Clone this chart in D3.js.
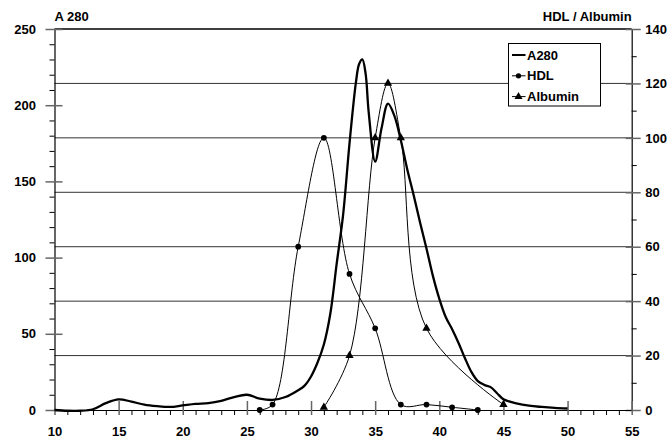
<!DOCTYPE html>
<html>
<head>
<meta charset="utf-8">
<script src="https://cdn.jsdelivr.net/npm/d3@7"></script>
<style>
  body { margin: 0; background: #fff; }
  svg text { font-family: "Liberation Sans", Arial, Helvetica, sans-serif; font-weight: bold; font-size: 13px; fill: #000; }
</style>
</head>
<body>
<div class="chart"></div>
<script>
// fraction number (x) and readings
const a280X = [10, 11, 12, 13, 14, 15, 16, 17, 18, 19, 20, 21, 22, 23, 24, 25, 26, 27, 28, 29, 29.5, 30, 30.5, 31, 31.5, 32, 32.5, 33, 33.5, 33.75, 34, 34.25, 34.5, 35, 35.5, 36, 36.5, 37, 37.5, 38, 38.5, 39, 39.5, 40, 40.5, 41, 41.5, 42, 42.5, 43, 43.5, 44, 44.5, 45, 45.5, 46, 47, 48, 49, 50];
const a280Y = [0, -0.5, -0.5, 0.5, 4.5, 7, 5.5, 3.5, 2.5, 2, 3, 4, 4.5, 6, 8.5, 10, 7.5, 6.6, 8.5, 13, 16, 22, 31, 43, 63, 96, 128, 175, 215, 227, 230, 221, 195, 163, 185, 201, 193, 177, 158, 141, 123, 106, 88, 73, 61, 53, 44, 34, 25, 19, 16.5, 15, 11, 7, 5.5, 4.3, 2.8, 2, 1.4, 1];

const hdlX = [26, 27, 29, 31, 33, 35, 37, 39, 41, 43];
const hdlY = [0, 2, 60, 100, 50, 30, 2, 2, 1, 0];

const albX = [31, 33, 35, 36, 37, 39, 45];
const albY = [1, 20, 100, 120, 100, 30, 2];

const xTicks = [10, 15, 20, 25, 30, 35, 40, 45, 50, 55];
const leftTicks = [0, 50, 100, 150, 200, 250];
const rightTicks = [0, 20, 40, 60, 80, 100, 120, 140];
const legendNames = ["A280", "HDL", "Albumin"];

const width = 671, height = 441;
const plot = {left: 54.5, right: 631.7, top: 29, bottom: 410};

const svg = d3.select(".chart").append("svg")
  .attr("width", width)
  .attr("height", height);

const x = d3.scaleLinear().domain([10, 55]).range([plot.left, plot.right]);
const yL = d3.scaleLinear().domain([0, 250]).range([plot.bottom, plot.top]);
const yR = d3.scaleLinear().domain([0, 140]).range([plot.bottom, plot.top]);

// horizontal grid (right axis)
svg.append("g")
  .selectAll("line")
  .data(rightTicks.filter(d => d > 0))
  .enter()
  .append("line")
  .attr("x1", plot.left)
  .attr("x2", plot.right)
  .attr("y1", d => yR(d))
  .attr("y2", d => yR(d))
  .attr("stroke", d => d === 140 ? "#000" : "#333")
  .attr("stroke-width", d => d === 140 ? 1.6 : 1);

// minor ticks
const minorLeft = d3.range(0, 251, 10).filter(d => d % 50 !== 0);
const minorRight = d3.range(0, 141, 10).filter(d => d % 20 !== 0);
const minorX = d3.range(10, 56, 1).filter(d => d % 5 !== 0);

svg.append("g")
  .attr("transform", `translate(${plot.left},0)`)
  .call(d3.axisLeft(yL).tickValues(minorLeft).tickSize(5).tickFormat(""))
  .call(g => g.select(".domain").remove());

svg.append("g")
  .attr("transform", `translate(${plot.right},0)`)
  .call(d3.axisRight(yR).tickValues(minorRight).tickSize(5).tickFormat(""))
  .call(g => g.select(".domain").remove());

svg.append("g")
  .attr("transform", `translate(0,${plot.bottom})`)
  .call(d3.axisBottom(x).tickValues(minorX).tickSize(5).tickFormat(""))
  .call(g => g.select(".domain").remove());

// major axes
const gLeft = svg.append("g")
  .attr("transform", `translate(${plot.left},0)`)
  .call(d3.axisLeft(yL).tickValues(leftTicks).tickSize(9).tickPadding(9.5).tickSizeOuter(0));
gLeft.selectAll(".tick line").attr("x1", 8).attr("stroke", "#666").attr("stroke-width", 1.5);

const gRight = svg.append("g")
  .attr("transform", `translate(${plot.right},0)`)
  .call(d3.axisRight(yR).tickValues(rightTicks).tickSize(9).tickPadding(4.5).tickSizeOuter(0));
gRight.selectAll(".tick line").attr("x1", -6).attr("stroke", "#666").attr("stroke-width", 1.5);

const gBottom = svg.append("g")
  .attr("transform", `translate(0,${plot.bottom})`)
  .call(d3.axisBottom(x).tickValues(xTicks).tickSize(5).tickPadding(12).tickSizeOuter(0));
gBottom.selectAll(".tick line").attr("y1", -9).attr("stroke", "#666").attr("stroke-width", 1.5);

svg.selectAll(".domain").attr("stroke", "#000").attr("stroke-width", 1.2);
svg.selectAll(".tick text").style("font-size", "13px").style("font-family", "'Liberation Sans', Arial, sans-serif").style("font-weight", "bold");

// axis titles
svg.append("text")
  .attr("x", plot.left)
  .attr("y", 20.5)
  .text("A 280");

svg.append("text")
  .attr("x", plot.right)
  .attr("y", 20.5)
  .attr("text-anchor", "end")
  .text("HDL / Albumin");

// curves
const a280Data = a280X.map((d, i) => ({x: d, y: a280Y[i]}));
const hdlData = hdlX.map((d, i) => ({x: d, y: hdlY[i]}));
const albData = albX.map((d, i) => ({x: d, y: albY[i]}));

svg.append("path")
  .datum(a280Data)
  .attr("fill", "none")
  .attr("stroke", "#000")
  .attr("stroke-width", 2.3)
  .attr("d", d3.line().x(d => x(d.x)).y(d => yL(d.y)).curve(d3.curveCatmullRom.alpha(0.5)));

const thinLine = d3.line().x(d => x(d.x)).y(d => yR(d.y)).curve(d3.curveCatmullRom.alpha(0.5));

svg.append("path")
  .datum(hdlData)
  .attr("fill", "none")
  .attr("stroke", "#000")
  .attr("stroke-width", 1)
  .attr("d", thinLine);

svg.append("path")
  .datum(albData)
  .attr("fill", "none")
  .attr("stroke", "#000")
  .attr("stroke-width", 1)
  .attr("d", thinLine);

svg.append("g")
  .selectAll("path")
  .data(hdlData)
  .enter()
  .append("path")
  .attr("transform", d => `translate(${x(d.x)},${yR(d.y)})`)
  .attr("d", d3.symbol(d3.symbolCircle, 26))
  .attr("fill", "#000");

svg.append("g")
  .selectAll("path")
  .data(albData)
  .enter()
  .append("path")
  .attr("transform", d => `translate(${x(d.x)},${yR(d.y)})`)
  .attr("d", d3.symbol(d3.symbolTriangle, 30))
  .attr("fill", "#000");

// legend
const legend = svg.append("g").attr("transform", "translate(508.5,43.5)");
legend.append("rect")
  .attr("width", 92)
  .attr("height", 62.5)
  .attr("fill", "#fff")
  .attr("stroke", "#000")
  .attr("stroke-width", 1);

const items = legend.selectAll("g.item")
  .data(legendNames)
  .enter()
  .append("g")
  .attr("class", "item")
  .attr("transform", (d, i) => `translate(0,${11.5 + i * 20.8})`);

items.append("line")
  .attr("x1", 3.5)
  .attr("x2", 17)
  .attr("stroke", "#000")
  .attr("stroke-width", (d, i) => i === 0 ? 2 : 1);

items.filter((d, i) => i > 0)
  .append("path")
  .attr("transform", "translate(10,0)")
  .attr("d", (d, i) => d3.symbol(i === 0 ? d3.symbolCircle : d3.symbolTriangle, i === 0 ? 22 : 28)())
  .attr("fill", "#000");

items.append("text")
  .attr("x", 18.5)
  .attr("dy", "0.36em")
  .text(d => d);
</script>
</body>
</html>
